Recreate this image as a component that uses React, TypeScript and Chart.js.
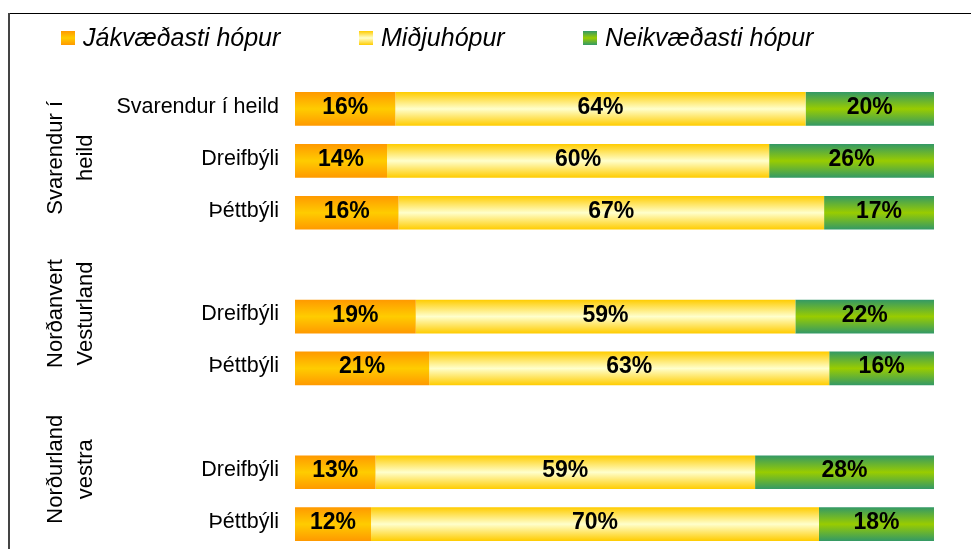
import React, { useEffect, useRef } from "react";
import { Chart, registerables } from "chart.js";

Chart.register(...registerables);

const categories = ["Svarendur í heild", "Dreifbýli", "Þéttbýli", "", "Dreifbýli", "Þéttbýli", "", "Dreifbýli", "Þéttbýli"];
const positive = [15.7, 14.4, 16.2, null, 18.9, 21.0, null, 12.6, 11.9];
const middle = [64.2, 59.8, 66.6, null, 59.4, 62.6, null, 59.4, 70.1];
const negative = [20.1, 25.8, 17.2, null, 21.7, 16.4, null, 28.0, 18.0];
const seriesNames = ["Jákvæðasti hópur", "Miðjuhópur", "Neikvæðasti hópur"];
const groupLabels = [["Svarendur í", "heild"], ["Norðanvert", "Vesturland"], ["Norðurland", "vestra"]];
const groupCenterSlots = [1, 4, 7];

const orangeStops = ["#FF9900", "#FFCC00", "#FF9900"];
const yellowStops = ["#FFCC00", "#FFFFCC", "#FFCC00"];
const greenStops = ["#339966", "#99CC00", "#339966"];
const FONT = "'Liberation Sans', Arial, sans-serif";

function makeGradient(ctx: CanvasRenderingContext2D, top: number, bottom: number, stops: string[]) {
  const g = ctx.createLinearGradient(0, top, 0, bottom);
  g.addColorStop(0, stops[0]);
  g.addColorStop(0.5, stops[1]);
  g.addColorStop(1, stops[2]);
  return g;
}

function scriptedFill(stops: string[]) {
  return (context: any) => {
    const chart = context.chart;
    const y = chart.scales && chart.scales.y;
    if (!chart.chartArea || !y || context.dataIndex === undefined) return stops[1];
    const c = y.getPixelForValue(context.dataIndex);
    const step = y.getPixelForValue(1) - y.getPixelForValue(0);
    const half = step * 0.325;
    return makeGradient(chart.ctx, c - half, c + half, stops);
  };
}

const framePlugin = {
  id: "frameAndLegend",
  beforeDraw(chart: any) {
    const ctx = chart.ctx;
    ctx.save();
    ctx.fillStyle = "#ffffff";
    ctx.fillRect(0, 0, chart.width, chart.height);
    ctx.fillStyle = "#000000";
    ctx.fillRect(8, 13, chart.width - 8, 1);
    ctx.fillStyle = "#444444";
    ctx.fillRect(8, 13, 2, chart.height - 13);
    // legend
    const xs = [61, 359, 583];
    const stopsList = [orangeStops, yellowStops, greenStops];
    ctx.font = `italic 25px ${FONT}`;
    ctx.textAlign = "left";
    ctx.textBaseline = "alphabetic";
    seriesNames.forEach((name, i) => {
      ctx.fillStyle = makeGradient(ctx, 31, 45, stopsList[i]);
      ctx.fillRect(xs[i], 31, 14, 14);
      ctx.fillStyle = "#000000";
      ctx.fillText(name, xs[i] + 22, 46);
    });
    ctx.restore();
  },
  afterDatasetsDraw(chart: any) {
    const ctx = chart.ctx;
    ctx.save();
    ctx.font = `bold 23px ${FONT}`;
    ctx.fillStyle = "#000000";
    ctx.textAlign = "center";
    ctx.textBaseline = "alphabetic";
    chart.data.datasets.forEach((ds: any, i: number) => {
      const meta = chart.getDatasetMeta(i);
      meta.data.forEach((bar: any, j: number) => {
        const v = ds.data[j];
        if (v === null || v === undefined) return;
        const p = bar.getProps(["x", "y", "base"], true);
        const cx = (p.x + p.base) / 2;
        ctx.fillText(`${Math.round(v)}%`, cx, p.y + 5);
      });
    });
    // group labels
    const y = chart.scales.y;
    ctx.font = `22px ${FONT}`;
    ctx.textAlign = "center";
    groupLabels.forEach((lines, g) => {
      const cy = y.getPixelForValue(groupCenterSlots[g]) - 3;
      ctx.save();
      ctx.translate(0, cy);
      ctx.rotate(-Math.PI / 2);
      ctx.fillText(lines[0], 0, 62);
      ctx.fillText(lines[1], 0, 92);
      ctx.restore();
    });
    ctx.restore();
  },
};

export default function App() {
  const ref = useRef<HTMLCanvasElement | null>(null);
  useEffect(() => {
    if (!ref.current) return;
    const chart = new Chart(ref.current, {
      type: "bar",
      data: {
        labels: categories,
        datasets: [
          { label: seriesNames[0], data: positive, backgroundColor: scriptedFill(orangeStops), borderWidth: 0 },
          { label: seriesNames[1], data: middle, backgroundColor: scriptedFill(yellowStops), borderWidth: 0 },
          { label: seriesNames[2], data: negative, backgroundColor: scriptedFill(greenStops), borderWidth: 0 },
        ],
      },
      options: {
        indexAxis: "y",
        animation: false,
        responsive: false,
        maintainAspectRatio: false,
        devicePixelRatio: 1,
        datasets: { bar: { barPercentage: 0.65, categoryPercentage: 1 } },
        layout: { padding: { top: 83, bottom: 1, left: 0, right: 37 } },
        plugins: { legend: { display: false }, tooltip: { enabled: false } },
        scales: {
          x: { stacked: true, min: 0, max: 100, display: false },
          y: {
            stacked: true,
            grid: { display: false, drawTicks: false },
            border: { display: false },
            ticks: {
              padding: 16,
              labelOffset: -2,
              color: "#000000",
              font: { family: FONT, size: 21.5 },
              autoSkip: false,
            },
            afterFit: (scale: any) => {
              scale.width = 295;
            },
          },
        },
      } as any,
      plugins: [framePlugin],
    });
    return () => chart.destroy();
  }, []);
  return (
    <div style={{ position: "fixed", left: 0, top: 0, width: 971, height: 549, overflow: "hidden", background: "#fff" }}>
      <canvas ref={ref} width={971} height={579} style={{ display: "block", width: 971, height: 579 }} />
    </div>
  );
}
